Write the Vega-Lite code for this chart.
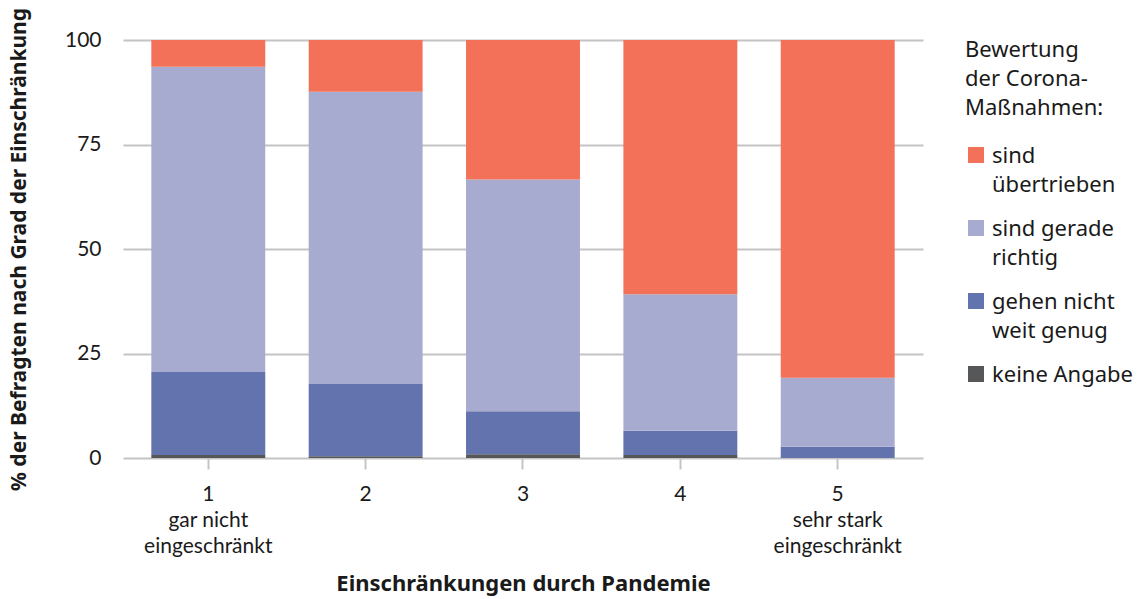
{
  "$schema": "https://vega.github.io/schema/vega-lite/v6.json",
  "width": 800,
  "height": 418,
  "autosize": "none",
  "padding": {"left": 123, "top": 40, "right": 222, "bottom": 141},
  "background": "white",
  "data": {
    "values": [
      {"stufe": 1, "bewertung": "keine Angabe", "rang": 4, "prozent": 0.7},
      {"stufe": 1, "bewertung": "gehen nicht weit genug", "rang": 3, "prozent": 19.9},
      {"stufe": 1, "bewertung": "sind gerade richtig", "rang": 2, "prozent": 73.0},
      {"stufe": 1, "bewertung": "sind übertrieben", "rang": 1, "prozent": 6.4},
      {"stufe": 2, "bewertung": "keine Angabe", "rang": 4, "prozent": 0.4},
      {"stufe": 2, "bewertung": "gehen nicht weit genug", "rang": 3, "prozent": 17.3},
      {"stufe": 2, "bewertung": "sind gerade richtig", "rang": 2, "prozent": 69.9},
      {"stufe": 2, "bewertung": "sind übertrieben", "rang": 1, "prozent": 12.4},
      {"stufe": 3, "bewertung": "keine Angabe", "rang": 4, "prozent": 0.9},
      {"stufe": 3, "bewertung": "gehen nicht weit genug", "rang": 3, "prozent": 10.3},
      {"stufe": 3, "bewertung": "sind gerade richtig", "rang": 2, "prozent": 55.4},
      {"stufe": 3, "bewertung": "sind übertrieben", "rang": 1, "prozent": 33.4},
      {"stufe": 4, "bewertung": "keine Angabe", "rang": 4, "prozent": 0.7},
      {"stufe": 4, "bewertung": "gehen nicht weit genug", "rang": 3, "prozent": 5.8},
      {"stufe": 4, "bewertung": "sind gerade richtig", "rang": 2, "prozent": 32.7},
      {"stufe": 4, "bewertung": "sind übertrieben", "rang": 1, "prozent": 60.8},
      {"stufe": 5, "bewertung": "keine Angabe", "rang": 4, "prozent": 0.0},
      {"stufe": 5, "bewertung": "gehen nicht weit genug", "rang": 3, "prozent": 2.7},
      {"stufe": 5, "bewertung": "sind gerade richtig", "rang": 2, "prozent": 16.5},
      {"stufe": 5, "bewertung": "sind übertrieben", "rang": 1, "prozent": 80.8}
    ]
  },
  "mark": {"type": "bar"},
  "encoding": {
    "x": {
      "field": "stufe",
      "type": "ordinal",
      "scale": {"paddingInner": 0.276, "paddingOuter": 0.18},
      "axis": {
        "title": "Einschränkungen durch Pandemie",
        "labelAngle": 0,
        "labelExpr": "datum.value == 1 ? ['1', 'gar nicht', 'eingeschränkt'] : datum.value == 5 ? ['5', 'sehr stark', 'eingeschränkt'] : datum.label",
        "labelBaseline": "top",
        "labelPadding": 14,
        "labelLineHeight": 26,
        "labelFont": "Lato",
        "labelFontSize": 21,
        "labelColor": "#1a1a1a",
        "domain": false,
        "ticks": true,
        "tickColor": "#c4c4c4",
        "tickWidth": 2,
        "tickSize": 11,
        "grid": false,
        "titleFont": "Noto Sans",
        "titleFontWeight": "bold",
        "titleFontSize": 22,
        "titleColor": "#1a1a1a",
        "titlePadding": 17
      }
    },
    "y": {
      "field": "prozent",
      "type": "quantitative",
      "stack": "zero",
      "scale": {"domain": [0, 100], "nice": false},
      "axis": {
        "title": "% der Befragten nach Grad der Einschränkung",
        "values": [0, 25, 50, 75, 100],
        "domain": false,
        "ticks": false,
        "grid": true,
        "gridColor": "#c4c4c4",
        "gridWidth": 2,
        "labelPadding": 22,
        "labelFont": "Lato",
        "labelFontSize": 21,
        "labelColor": "#1a1a1a",
        "titleFont": "Noto Sans",
        "titleFontWeight": "bold",
        "titleFontSize": 21,
        "titleColor": "#1a1a1a",
        "titlePadding": 35
      }
    },
    "color": {
      "field": "bewertung",
      "type": "nominal",
      "scale": {
        "domain": ["sind übertrieben", "sind gerade richtig", "gehen nicht weit genug", "keine Angabe"],
        "range": ["#f37059", "#a8abd0", "#6373ad", "#555759"]
      },
      "legend": {
        "title": ["Bewertung", "der Corona-", "Maßnahmen:"],
        "orient": "right",
        "offset": 42,
        "titleFont": "Noto Sans",
        "titleFontWeight": "normal",
        "titleFontSize": 22,
        "titleLineHeight": 29,
        "titleColor": "#1a1a1a",
        "titlePadding": 32,
        "labelExpr": "datum.value == 'sind übertrieben' ? ['sind', 'übertrieben'] : datum.value == 'sind gerade richtig' ? ['sind gerade', 'richtig'] : datum.value == 'gehen nicht weit genug' ? ['gehen nicht', 'weit genug'] : datum.label",
        "labelFont": "Noto Sans",
        "labelFontSize": 22,
        "labelColor": "#1a1a1a",
        "labelBaseline": "alphabetic",
        "labelOffset": 5,
        "labelLimit": 200,
        "symbolType": "M-1,-2H1V0H-1Z",
        "symbolSize": 256,
        "symbolStrokeWidth": 0,
        "symbolOpacity": 1,
        "rowPadding": 22,
        "encode": {
          "labels": {"update": {"lineHeight": {"value": 29}}}
        }
      }
    },
    "order": {"field": "rang", "type": "quantitative", "sort": "descending"}
  },
  "config": {
    "view": {"stroke": null}
  }
}
